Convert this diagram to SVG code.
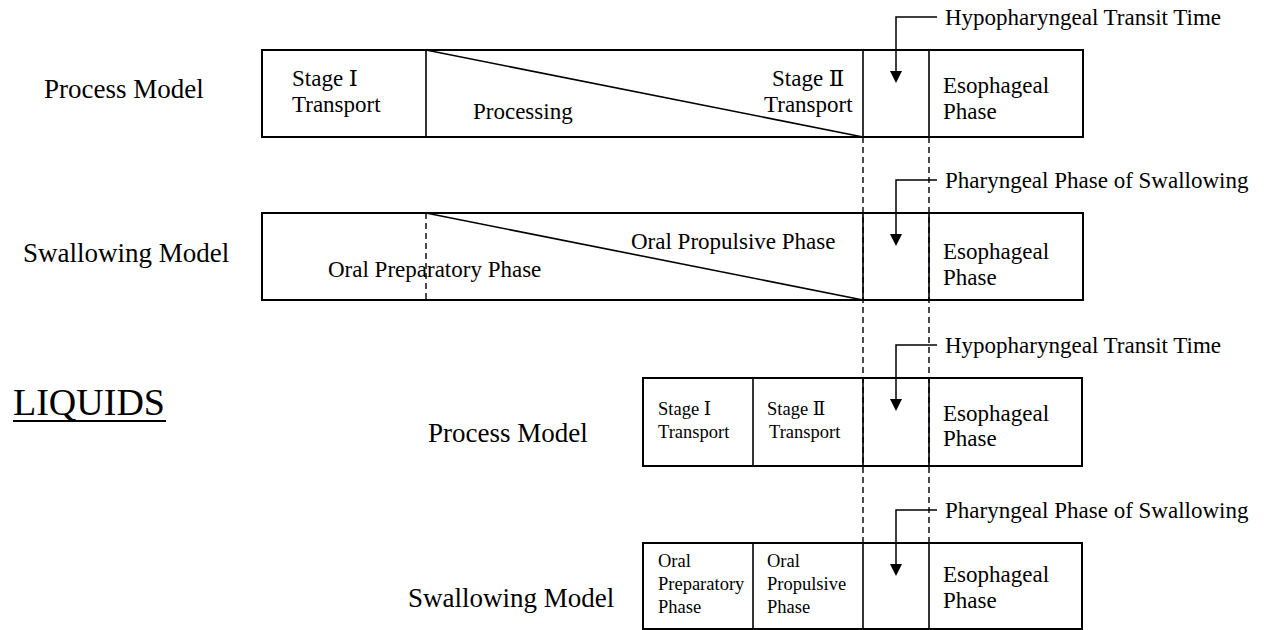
<svg xmlns="http://www.w3.org/2000/svg" width="1273" height="630" viewBox="0 0 1273 630">
<style>
text{font-family:"Liberation Serif","DejaVu Serif","Noto Sans CJK JP",serif;fill:#000}
.lbl{font-size:27px}
.t{font-size:23px}
.s{font-size:18.5px}
.box{fill:none;stroke:#000;stroke-width:2}
.div{stroke:#000;stroke-width:1.6;fill:none}
.dash{stroke:#000;stroke-width:1.4;stroke-dasharray:6 4;fill:none}
.arr{stroke:#000;stroke-width:1.5;fill:none}
.head{fill:#000}
</style>
<rect width="1273" height="630" fill="#fff"/>

<g id="connectors">
<line class="dash" x1="863" y1="137" x2="863" y2="543"/>
<line class="dash" x1="929" y1="137" x2="929" y2="543"/>
<path class="arr" d="M937,17 H896 V71"/>
<path class="head" d="M890,71 L902,71 L896,83 Z"/>
<path class="arr" d="M937,180 H896 V234"/>
<path class="head" d="M890,234 L902,234 L896,246 Z"/>
<path class="arr" d="M937,345 H896 V399"/>
<path class="head" d="M890,399 L902,399 L896,411 Z"/>
<path class="arr" d="M937,510 H896 V564"/>
<path class="head" d="M890,564 L902,564 L896,576 Z"/>
</g>

<g id="row1-process">
<text class="lbl" x="44" y="98">Process Model</text>
<rect class="box" x="262" y="50" width="821" height="87"/>
<line class="div" x1="426" y1="50" x2="426" y2="137"/>
<line class="div" x1="426" y1="50" x2="863" y2="137"/>
<line class="div" x1="863" y1="50" x2="863" y2="137"/>
<line class="div" x1="929" y1="50" x2="929" y2="137"/>
<text class="t" x="292" y="86">Stage Ⅰ</text>
<text class="t" x="292" y="112">Transport</text>
<text class="t" x="473" y="119">Processing</text>
<text class="t" x="772" y="86">Stage Ⅱ</text>
<text class="t" x="764" y="112">Transport</text>
<text class="t" x="943" y="93">Esophageal</text>
<text class="t" x="943" y="119">Phase</text>
<text class="t" x="945" y="25">Hypopharyngeal Transit Time</text>
</g>

<g id="row2-swallowing">
<text class="lbl" x="23" y="262">Swallowing Model</text>
<rect class="box" x="262" y="213" width="821" height="87"/>
<line class="dash" x1="426" y1="213" x2="426" y2="300"/>
<line class="div" x1="426" y1="213" x2="863" y2="300"/>
<line class="div" x1="863" y1="213" x2="863" y2="300"/>
<line class="div" x1="929" y1="213" x2="929" y2="300"/>
<text class="t" x="631" y="249">Oral Propulsive Phase</text>
<text class="t" x="328" y="277">Oral Preparatory Phase</text>
<text class="t" x="943" y="259">Esophageal</text>
<text class="t" x="943" y="285">Phase</text>
<text class="t" x="945" y="188">Pharyngeal Phase of Swallowing</text>
</g>

<g id="liquids-title">
<text x="13" y="415" style="font-size:38px">LIQUIDS</text>
<line x1="13" y1="421" x2="166" y2="421" stroke="#000" stroke-width="2"/>
</g>

<g id="row3-process">
<text class="lbl" x="428" y="442">Process Model</text>
<rect class="box" x="643" y="378" width="439" height="88"/>
<line class="div" x1="753" y1="378" x2="753" y2="466"/>
<line class="div" x1="863" y1="378" x2="863" y2="466"/>
<line class="div" x1="929" y1="378" x2="929" y2="466"/>
<text class="s" x="658" y="415">Stage Ⅰ</text>
<text class="s" x="658" y="438">Transport</text>
<text class="s" x="767" y="415">Stage Ⅱ</text>
<text class="s" x="769" y="438">Transport</text>
<text class="t" x="943" y="421">Esophageal</text>
<text class="t" x="943" y="446">Phase</text>
<text class="t" x="945" y="353">Hypopharyngeal Transit Time</text>
</g>

<g id="row4-swallowing">
<text class="lbl" x="408" y="607">Swallowing Model</text>
<rect class="box" x="643" y="543" width="439" height="86"/>
<line class="div" x1="753" y1="543" x2="753" y2="629"/>
<line class="div" x1="863" y1="543" x2="863" y2="629"/>
<line class="div" x1="929" y1="543" x2="929" y2="629"/>
<text class="s" x="658" y="567">Oral</text>
<text class="s" x="658" y="590">Preparatory</text>
<text class="s" x="658" y="613">Phase</text>
<text class="s" x="767" y="567">Oral</text>
<text class="s" x="767" y="590">Propulsive</text>
<text class="s" x="767" y="613">Phase</text>
<text class="t" x="943" y="582">Esophageal</text>
<text class="t" x="943" y="608">Phase</text>
<text class="t" x="945" y="518">Pharyngeal Phase of Swallowing</text>
</g>
</svg>
